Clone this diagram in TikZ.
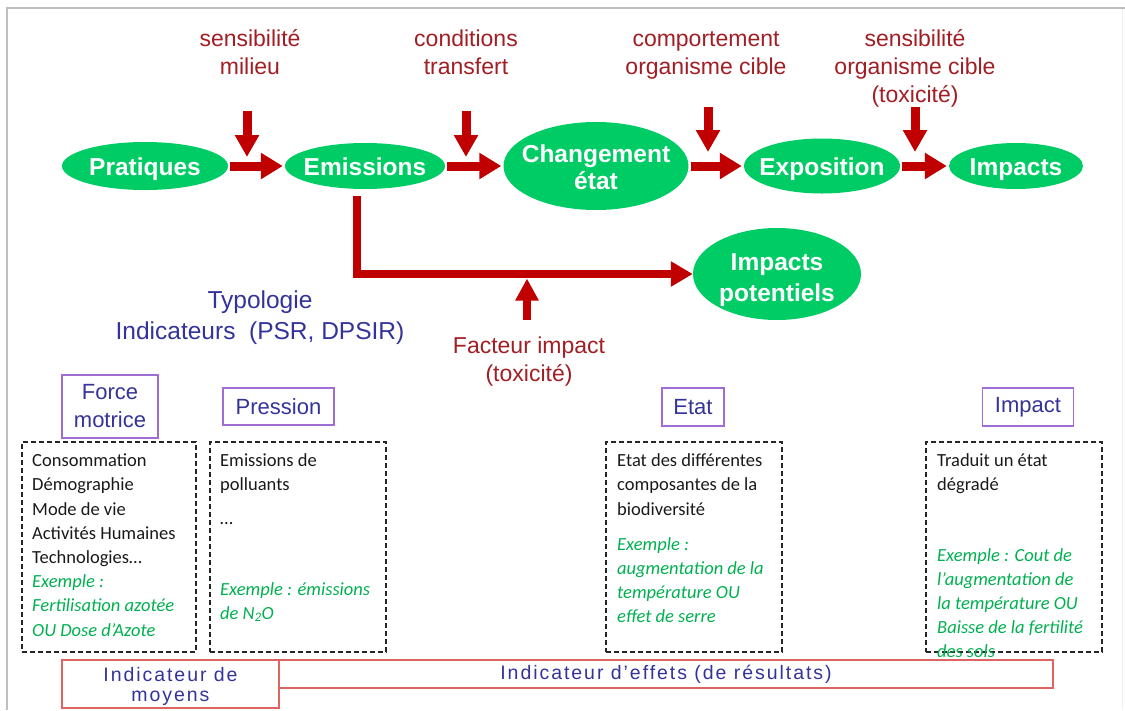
\documentclass[tikz,border=0pt]{standalone}
\usepackage{fontspec}
\setmainfont{Liberation Sans}
\newfontfamily\calib{Carlito}
\newfontfamily\spaced[LetterSpace=10]{Liberation Sans}
\usetikzlibrary{shapes.geometric,arrows.meta}
\definecolor{ellgreen}{RGB}{0,204,102}
\definecolor{arrred}{RGB}{192,0,0}
\definecolor{txtred}{RGB}{160,30,36}
\definecolor{txtblue}{RGB}{51,51,153}
\definecolor{boxpurple}{RGB}{160,110,210}
\definecolor{boxred}{RGB}{222,100,100}
\definecolor{exgreen}{RGB}{0,176,80}
\definecolor{framegray}{RGB}{190,190,190}
% zero-width text so the ellipse keeps its given size
\newcommand{\zw}[1]{\makebox[0pt]{#1}}

\begin{document}
\begin{tikzpicture}[x=1pt,y=-1pt,
  stage/.style={ellipse, fill=ellgreen, text=white, inner sep=0pt, align=center,
    text height=19.5pt, text depth=0pt,
    font=\fontsize{24.5}{27}\selectfont\bfseries},
  flow/.style={draw=arrred, line width=9pt, -{Triangle[width=25pt,length=22pt]},
    shorten <=2pt, shorten >=2pt},
  push/.style={draw=arrred, line width=9pt, -{Triangle[width=23pt,length=22pt]}},
  factor/.style={text=txtred, align=center, font=\fontsize{23}{28}\selectfont},
  kind/.style={draw=boxpurple, line width=1.2pt, text=txtblue, align=center,
    inner sep=0pt, font=\fontsize{22}{28}\selectfont},
  panel/.style={draw=black!85, line width=1.3pt, dash pattern=on 5pt off 3pt,
    inner sep=0pt},
  entry/.style={anchor=north west, inner sep=0pt, align=left, text=black!90,
    font=\calib\fontsize{18.5}{24.2}\selectfont},
  example/.style={entry, text=exgreen, font=\calib\itshape\fontsize{18.5}{24.2}\selectfont},
  gauge/.style={draw=boxred, line width=1.3pt, text=txtblue, align=center,
    inner sep=0pt, font=\spaced\fontsize{19.5}{20}\selectfont}
]
\useasboundingbox (0,0) rectangle (1125,710);

% slide frame
\draw[framegray, line width=2.5pt] (7,710) -- (7,8) -- (1125,8);
\draw[black!6, line width=1pt] (1122,9) -- (1122,710);

% causal chain
\node[stage, minimum width=166pt, minimum height=48pt] (prat) at (145,166) {\zw{Pratiques}};
\node[stage, minimum width=160pt, minimum height=46pt] (emis) at (365,166) {\zw{Emissions}};
\node[stage, minimum width=185pt, minimum height=88pt, text height=47.5pt, text depth=0pt]
  (chg) at (596,166) {\zw{Changement}\\\zw{état}};
\node[stage, minimum width=156pt, minimum height=55pt] (expo) at (822,166) {\zw{Exposition}};
\node[stage, minimum width=134pt, minimum height=46pt] (imp) at (1016,166) {\zw{Impacts}};
\node[stage, minimum width=168pt, minimum height=92pt, text height=55.5pt, text depth=0pt,
  font=\fontsize{24.5}{31}\selectfont\bfseries] (pot) at (777,274) {\zw{Impacts}\\\zw{potentiels}};

\draw[flow] (prat) -- (emis);
\draw[flow] (emis) -- (chg);
\draw[flow] (chg) -- (expo);
\draw[flow] (expo) -- (imp);

% modulating factors
\node[factor] (lab1) at (250,52) {sensibilité\\milieu};
\node[factor] (lab2) at (466,52) {conditions\\transfert};
\node[factor] (lab3) at (706,55) {comportement\\organisme cible};
\node[factor] (lab4) at (915,68) {sensibilité\\organisme cible\\(toxicité)};
\node[factor] (fact) at (529,362) {Facteur impact\\(toxicité)};

\coordinate (d1a) at (247,111); \coordinate (d1b) at (247,157);
\coordinate (d2a) at (466,111); \coordinate (d2b) at (466,157);
\coordinate (d3a) at (708,107); \coordinate (d3b) at (708,152);
\coordinate (d4a) at (915,107); \coordinate (d4b) at (915,152);
\draw[push] (d1a) -- (d1b);
\draw[push] (d2a) -- (d2b);
\draw[push] (d3a) -- (d3b);
\draw[push] (d4a) -- (d4b);

% branch towards potential impacts
\coordinate (br) at (357,196);
\draw[draw=arrred, line width=8.5pt, -{Triangle[width=24pt,length=22pt]}] (br) |- (pot.west);
\coordinate (fa) at (527,320); \coordinate (fb) at (527,278.5);
\draw[draw=arrred, line width=8.5pt, -{Triangle[width=22pt,length=22pt]}] (fa) -- (fb);

% indicator typology
\node[text=txtblue, align=center, font=\fontsize{24.5}{31}\selectfont] (typ) at (260,318)
  {Typologie\\Indicateurs\ \ (PSR, DPSIR)};

\node[kind, minimum width=96pt, minimum height=63pt] (force) at (110,406.5) {Force\\motrice};
\node[kind, minimum width=111pt, minimum height=37pt] (pres) at (278.5,406.5) {Pression};
\node[kind, minimum width=62pt, minimum height=38pt] (etat) at (693,407) {Etat};
\node[kind, minimum width=91pt, minimum height=38pt] (impk) at (1028,407) {Impact};

% dashed panels
\node[panel, minimum width=174pt, minimum height=210pt] (b1) at (109,547) {};
\node[panel, minimum width=176pt, minimum height=210pt] (b2) at (298,547) {};
\node[panel, minimum width=176pt, minimum height=210pt] (b3) at (694,547) {};
\node[panel, minimum width=176pt, minimum height=210pt] (b4) at (1014,547) {};

\node[entry] (t1) at (32,449.6) {\strut Consommation\\Démographie\\Mode de vie\\Activités Humaines\\Technologies…\\
  \textcolor{exgreen}{\itshape Exemple :}\\\textcolor{exgreen}{\itshape Fertilisation azotée}\\
  \textcolor{exgreen}{\itshape OU Dose d’Azote}};

\node[entry] (t2) at (220,449.6) {\strut Emissions de\\polluants};
\node[entry] (t2b) at (220,507) {\strut …};
\node[example] (e2) at (220,578) {\strut Exemple : émissions\\de N\textsubscript{2}O};

\node[entry] (t3) at (617,449.6) {\strut Etat des différentes\\composantes de la\\biodiversité};
\node[example] (e3) at (617,533) {\strut Exemple :\\augmentation de la\\température OU\\effet de serre};

\node[entry] (t4) at (937,449.6) {\strut Traduit un état\\dégradé};
\node[example] (e4) at (937,544) {\strut Exemple : Cout de\\l’augmentation de\\la température OU\\Baisse de la fertilité\\des sols};

% indicator classes
\node[gauge, minimum width=774pt, minimum height=28pt] (eff) at (666,674) {Indicateur d’effets (de résultats)};
\node[gauge, minimum width=217pt, minimum height=48pt, text height=35.5pt, text depth=0pt]
  (moy) at (170.5,684) {Indicateur de\\moyens};
\end{tikzpicture}
\end{document}
